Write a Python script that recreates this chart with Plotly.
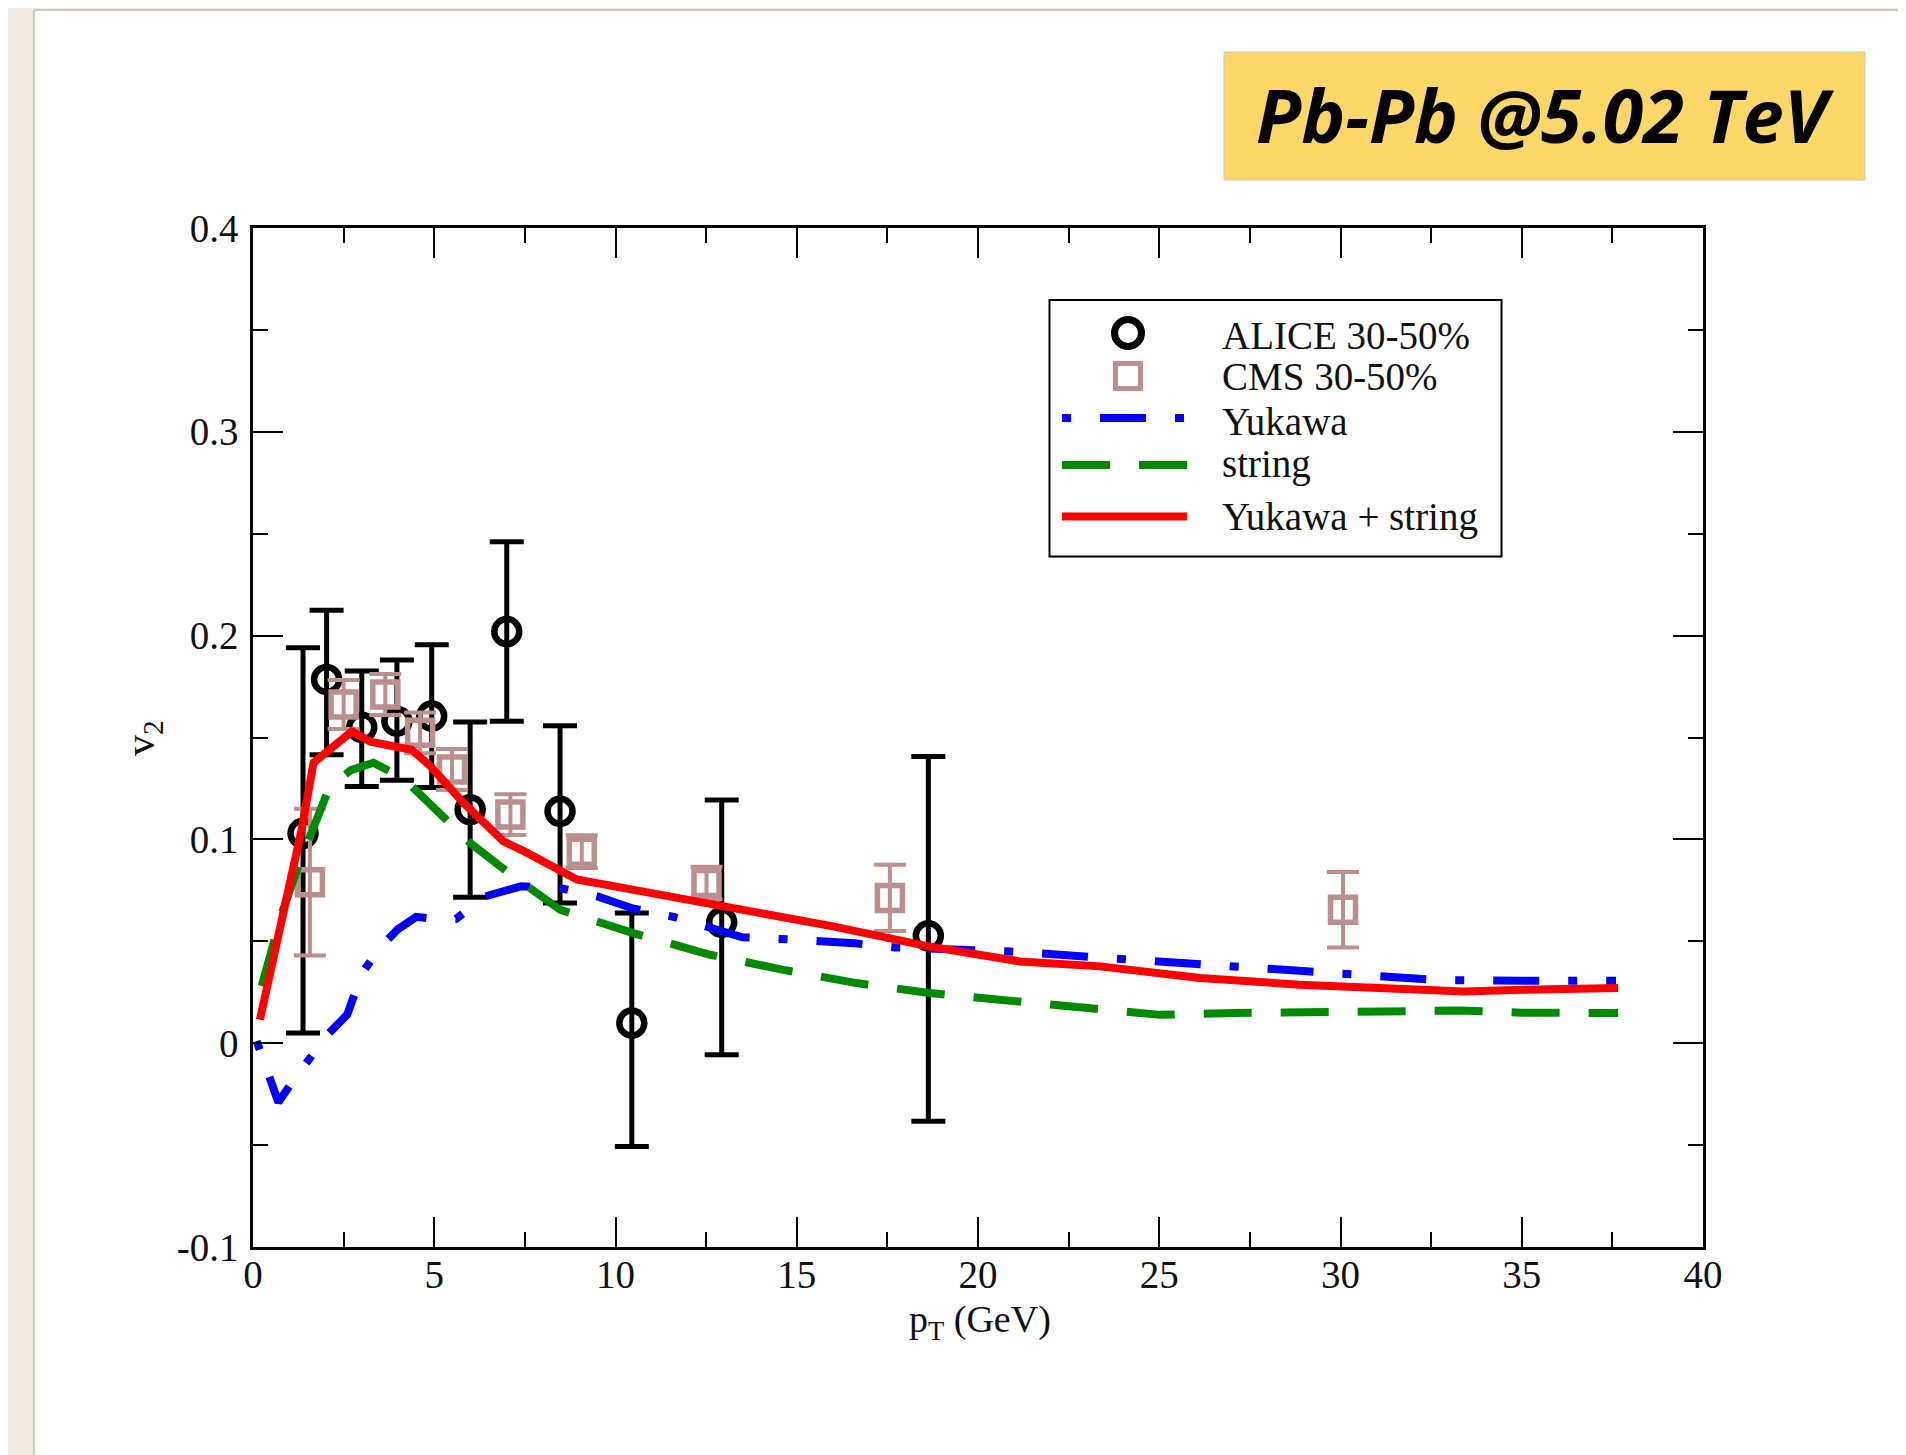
import plotly.graph_objects as go

# ---------------- data ----------------
alice_pt = [1.38, 2.03, 3.0, 3.97, 4.93, 5.99, 7.0, 8.47, 10.45, 12.93, 18.63]
alice_v2 = [0.103, 0.1785, 0.155, 0.158, 0.1605, 0.1146, 0.202, 0.1138, 0.0099, 0.0593, 0.0527]
alice_err_plus = [0.091, 0.034, 0.0276, 0.030, 0.035, 0.043, 0.044, 0.042, 0.054, 0.060, 0.088]
alice_err_minus = [0.098, 0.037, 0.029, 0.029, 0.035, 0.043, 0.044, 0.045, 0.0606, 0.065, 0.091]

cms_pt = [1.57, 2.50, 3.65, 4.61, 5.49, 7.10, 9.07, 12.51, 17.57, 30.07]
cms_v2 = [0.079, 0.1662, 0.1711, 0.1523, 0.1343, 0.1122, 0.094, 0.0786, 0.0713, 0.0655]
cms_err = [0.036, 0.012, 0.010, 0.010, 0.010, 0.010, 0.008, 0.008, 0.0163, 0.0185]

yukawa_pt = [0.1, 0.45, 0.7, 1.2, 1.7, 2.1, 2.6, 3.0, 3.5, 4.0, 4.5, 5.0, 5.6, 6.4, 7.4,
             8.5, 9.5, 10.5, 11.6, 12.5, 13.5, 14.7, 15.7, 16.6, 17.7, 19.7, 20.9, 23.4,
             26.5, 29.7, 32.7, 35.0, 37.6]
yukawa_v2 = [0.001, -0.018, -0.029, -0.016, -0.004, 0.005, 0.014, 0.034, 0.047, 0.056, 0.062,
             0.061, 0.061, 0.072, 0.077, 0.076, 0.072, 0.066, 0.062, 0.057, 0.052, 0.051, 0.050,
             0.049, 0.047, 0.046, 0.045, 0.042, 0.0385, 0.034, 0.031, 0.0306, 0.0306]

string_pt = [0.24, 0.8, 1.25, 1.57, 2.12, 2.7, 3.32, 4.15, 5.07, 5.99, 7.0, 8.47, 10.49, 12.61,
             14.63, 16.65, 18.66, 20.7, 22.9, 25.02, 27.03, 29.07, 31.2, 33.3, 35.0, 37.66]
string_v2 = [0.028, 0.064, 0.087, 0.1015, 0.126, 0.134, 0.1376, 0.130, 0.1138, 0.0983, 0.0843,
             0.0655, 0.054, 0.0434, 0.036, 0.0295, 0.0246, 0.0213, 0.018, 0.0139, 0.0148, 0.0151,
             0.016, 0.016, 0.015, 0.0148]

total_pt = [0.19, 0.74, 1.34, 1.67, 1.94, 2.73, 3.23, 4.38, 4.89, 5.8, 6.91, 7.5, 8.93, 10.49,
            12.93, 16.0, 18.63, 21.16, 23.37, 26.12, 28.88, 31.64, 33.4, 35.03, 37.66]
total_v2 = [0.0115, 0.0557, 0.1048, 0.1376, 0.1416, 0.153, 0.148, 0.144, 0.136, 0.118, 0.099,
            0.094, 0.0803, 0.0753, 0.0671, 0.0573, 0.0475, 0.0401, 0.0377, 0.032, 0.0287, 0.0262,
            0.0254, 0.0262, 0.0271]

x_tickvals = [0, 5, 10, 15, 20, 25, 30, 35, 40]
y_tickvals = [-0.1, 0, 0.1, 0.2, 0.3, 0.4]
y_ticktext = ["-0.1", "0", "0.1", "0.2", "0.3", "0.4"]

legend_labels = ["ALICE 30-50%", "CMS 30-50%", "Yukawa", "string", "Yukawa + string"]
title_text = "Pb-Pb @5.02 TeV"

# ---------------- styling ----------------
OFF = 8                      # page body margin in the browser
SW, SH = 1906, 1455          # screen size
W, H = SW - OFF, SH - OFF    # figure size
# plot area in screen pixels
L, R, T, B = 253, 1703, 228, 1247
SERIF = "Liberation Serif, Times New Roman, serif"
BLUE, GREEN, RED, BROWN = "#0000ff", "#008a00", "#ff0000", "#bc8f8f"
BLUE_DASH = "9px,29px,46px,29px"
GREEN_DASH = "48px,29px"


def xp(X):
    return (X - L) / (R - L)


def yp(Y):
    return (B - Y) / (B - T)


fig = go.Figure()

fig.add_trace(go.Scatter(
    x=alice_pt, y=alice_v2, mode="markers", name=legend_labels[0], showlegend=False,
    marker=dict(symbol="circle-open", size=25, color="black", line=dict(width=6.5, color="black")),
    error_y=dict(type="data", symmetric=False, array=alice_err_plus, arrayminus=alice_err_minus,
                 color="black", thickness=5, width=17)))

fig.add_trace(go.Scatter(
    x=cms_pt, y=cms_v2, mode="markers", name=legend_labels[1], showlegend=False,
    marker=dict(symbol="square-open", size=25, color=BROWN, line=dict(width=5.5, color=BROWN)),
    error_y=dict(type="data", array=cms_err, color=BROWN, thickness=4, width=16)))

fig.add_trace(go.Scatter(x=yukawa_pt, y=yukawa_v2, mode="lines", name=legend_labels[2],
                         showlegend=False, line=dict(color=BLUE, width=8, dash=BLUE_DASH)))
fig.add_trace(go.Scatter(x=string_pt, y=string_v2, mode="lines", name=legend_labels[3],
                         showlegend=False, line=dict(color=GREEN, width=8, dash=GREEN_DASH)))
fig.add_trace(go.Scatter(x=total_pt, y=total_v2, mode="lines", name=legend_labels[4],
                         showlegend=False, line=dict(color=RED, width=8)))

shapes = []
annotations = []

# slide background strips (screen coordinates)
shapes.append(dict(type="rect", xref="paper", yref="paper", x0=xp(OFF), x1=xp(34), y0=yp(OFF), y1=yp(SH),
                   fillcolor="#f1ede4", line=dict(width=0), layer="below"))
shapes.append(dict(type="rect", xref="paper", yref="paper", x0=xp(OFF), x1=xp(SW), y0=yp(OFF), y1=yp(10),
                   fillcolor="#f1ede4", line=dict(width=0), layer="below"))
shapes.append(dict(type="line", xref="paper", yref="paper", x0=xp(34), x1=xp(34), y0=yp(10), y1=yp(SH),
                   line=dict(color="#cfcbc3", width=2)))
shapes.append(dict(type="line", xref="paper", yref="paper", x0=xp(34), x1=xp(SW), y0=yp(10), y1=yp(10),
                   line=dict(color="#cfcbc3", width=2)))

# title box
shapes.append(dict(type="rect", xref="paper", yref="paper", x0=xp(1224), x1=xp(1865), y0=yp(52), y1=yp(180),
                   fillcolor="#fdd868", line=dict(color="#c8c8c8", width=1)))
annotations.append(dict(xref="paper", yref="paper", x=xp(1545), y=yp(114), xanchor="center", yanchor="middle",
                        text="<b><i>" + title_text + "</i></b>", showarrow=False,
                        font=dict(family="Open Sans", size=74, color="black")))

# legend box
shapes.append(dict(type="rect", xref="paper", yref="paper", x0=xp(1049.5), x1=xp(1501.5), y0=yp(300), y1=yp(556.5),
                   fillcolor="white", line=dict(color="black", width=2)))
row_marker_y = [333, 376, 418, 465, 516.5]
row_text_y = [335, 376.5, 421.5, 463.5, 516.5]
mx = 1128
r = 13.5
shapes.append(dict(type="circle", xref="paper", yref="paper", x0=xp(mx - r), x1=xp(mx + r),
                   y0=yp(row_marker_y[0] - r), y1=yp(row_marker_y[0] + r), line=dict(color="black", width=7)))
s = 12.5
shapes.append(dict(type="rect", xref="paper", yref="paper", x0=xp(mx - s), x1=xp(mx + s),
                   y0=yp(row_marker_y[1] - s), y1=yp(row_marker_y[1] + s), line=dict(color=BROWN, width=5)))
for yy, col, dash in [(row_marker_y[2], BLUE, BLUE_DASH), (row_marker_y[3], GREEN, GREEN_DASH),
                      (row_marker_y[4], RED, "solid")]:
    shapes.append(dict(type="line", xref="paper", yref="paper", x0=xp(1062), x1=xp(1187), y0=yp(yy), y1=yp(yy),
                       line=dict(color=col, width=8, dash=dash)))
for lab, yy in zip(legend_labels, row_text_y):
    annotations.append(dict(xref="paper", yref="paper", x=xp(1220), y=yp(yy), xanchor="left", yanchor="middle",
                            text=lab, showarrow=False, font=dict(family=SERIF, size=39, color="#111")))

# axis titles
annotations.append(dict(xref="paper", yref="paper", x=xp(980), y=yp(1322), xanchor="center", yanchor="middle",
                        text="p<sub>T</sub> (GeV)", showarrow=False, font=dict(family=SERIF, size=38, color="#111")))
annotations.append(dict(xref="paper", yref="paper", x=xp(143), y=yp(738), xanchor="center", yanchor="middle",
                        text="v<sub>2</sub>", textangle=-90, showarrow=False,
                        font=dict(family=SERIF, size=42, color="#111")))

axis_common = dict(showgrid=False, zeroline=False, showline=True, linecolor="black", linewidth=2.5,
                   mirror="allticks", ticks="inside", ticklen=30, tickwidth=2, tickcolor="black",
                   tickfont=dict(family=SERIF, size=39, color="#111"))

fig.update_layout(
    width=W, height=H,
    margin=dict(l=L - OFF, r=W - (R - OFF), t=T - OFF, b=H - (B - OFF), autoexpand=False),
    paper_bgcolor="white", plot_bgcolor="white",
    xaxis=dict(range=[0, 40], tickmode="array", tickvals=x_tickvals, ticklabelstandoff=-9,
               minor=dict(tickmode="linear", tick0=0, dtick=2.5, ticks="inside", ticklen=15,
                          tickwidth=2, tickcolor="black"), **axis_common),
    yaxis=dict(range=[-0.1, 0.4], tickmode="array", tickvals=y_tickvals, ticktext=y_ticktext,
               ticklabelstandoff=4,
               minor=dict(tickmode="linear", tick0=0, dtick=0.05, ticks="inside", ticklen=15,
                          tickwidth=2, tickcolor="black"), **axis_common),
    shapes=shapes, annotations=annotations, showlegend=False,
)

fig.write_html("out.html")
